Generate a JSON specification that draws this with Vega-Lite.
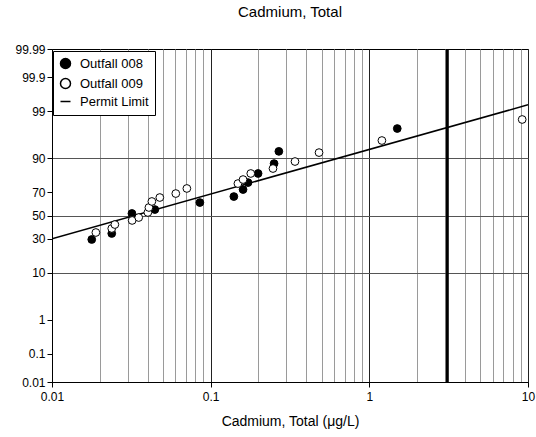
{
  "$schema": "https://vega.github.io/schema/vega-lite/v6.json",
  "autosize": {"type": "none"},
  "padding": {"left": 52, "top": 49, "right": 8, "bottom": 55},
  "width": 476,
  "height": 333,
  "background": "white",
  "title": {"text": "Cadmium, Total", "fontSize": 15, "fontWeight": "normal", "font": "Liberation Sans", "color": "black", "offset": 23},
  "config": {
    "font": "Liberation Sans",
    "view": {"stroke": "black", "strokeWidth": 1},
    "axis": {"labelFont": "Liberation Sans", "titleFont": "Liberation Sans", "labelColor": "black", "titleColor": "black", "domainColor": "black", "tickColor": "black", "labelFontSize": 12, "titleFontSize": 14, "titleFontWeight": "normal"},
    "legend": {"labelFontSize": 13, "labelFont": "Liberation Sans", "labelColor": "black"}
  },
  "datasets": {
    "pts": [
      {"conc": 0.0178, "pct": 29.6, "series": "Outfall 008"},
      {"conc": 0.0238, "pct": 34.4, "series": "Outfall 008"},
      {"conc": 0.0319, "pct": 51.8, "series": "Outfall 008"},
      {"conc": 0.0445, "pct": 55.3, "series": "Outfall 008"},
      {"conc": 0.0855, "pct": 61.4, "series": "Outfall 008"},
      {"conc": 0.140, "pct": 66.4, "series": "Outfall 008"},
      {"conc": 0.160, "pct": 71.9, "series": "Outfall 008"},
      {"conc": 0.172, "pct": 76.9, "series": "Outfall 008"},
      {"conc": 0.199, "pct": 82.6, "series": "Outfall 008"},
      {"conc": 0.251, "pct": 87.7, "series": "Outfall 008"},
      {"conc": 0.269, "pct": 92.4, "series": "Outfall 008"},
      {"conc": 1.50, "pct": 97.4, "series": "Outfall 008"},
      {"conc": 0.0189, "pct": 35.2, "series": "Outfall 009"},
      {"conc": 0.0238, "pct": 38.6, "series": "Outfall 009"},
      {"conc": 0.0249, "pct": 42.0, "series": "Outfall 009"},
      {"conc": 0.032, "pct": 45.6, "series": "Outfall 009"},
      {"conc": 0.0352, "pct": 48.2, "series": "Outfall 009"},
      {"conc": 0.0402, "pct": 52.7, "series": "Outfall 009"},
      {"conc": 0.0408, "pct": 57.1, "series": "Outfall 009"},
      {"conc": 0.0426, "pct": 62.3, "series": "Outfall 009"},
      {"conc": 0.0478, "pct": 65.6, "series": "Outfall 009"},
      {"conc": 0.0603, "pct": 68.8, "series": "Outfall 009"},
      {"conc": 0.0708, "pct": 72.7, "series": "Outfall 009"},
      {"conc": 0.1485, "pct": 76.2, "series": "Outfall 009"},
      {"conc": 0.160, "pct": 78.9, "series": "Outfall 009"},
      {"conc": 0.179, "pct": 82.6, "series": "Outfall 009"},
      {"conc": 0.247, "pct": 85.3, "series": "Outfall 009"},
      {"conc": 0.340, "pct": 88.6, "series": "Outfall 009"},
      {"conc": 0.482, "pct": 92.0, "series": "Outfall 009"},
      {"conc": 1.20, "pct": 95.3, "series": "Outfall 009"},
      {"conc": 9.19, "pct": 98.4, "series": "Outfall 009"}
    ],
    "fit": [
      {"conc": 0.01, "pct": 30.2},
      {"conc": 10, "pct": 99.33}
    ],
    "limit": [
      {"conc": 3.1}
    ]
  },
  "encoding": {
    "x": {
      "field": "conc", "type": "quantitative",
      "scale": {"type": "log", "domain": [0.01, 10], "nice": false},
      "axis": {
        "title": "Cadmium, Total (μg/L)",
        "values": [0.01,0.02,0.03,0.04,0.05,0.06,0.07,0.08,0.09,0.1,0.2,0.3,0.4,0.5,0.6,0.7,0.8,0.9,1,2,3,4,5,6,7,8,9,10],
        "labelExpr": "abs(log(datum.value)/LN10 - round(log(datum.value)/LN10)) < 0.001 ? format(datum.value, '~g') : ''",
        "labelOverlap": false,
        "labelFlush": false,
        "labelPadding": 4,
        "tickSize": {"condition": {"test": "abs(log(datum.value)/LN10 - round(log(datum.value)/LN10)) < 0.001", "value": 5}, "value": 0},
        "grid": true,
        "gridColor": {"condition": {"test": "abs(log(datum.value)/LN10 - round(log(datum.value)/LN10)) < 0.001", "value": "#222222"}, "value": "#9a9a9a"},
        "gridOpacity": 1,
        "titlePadding": 12
      }
    }
  },
  "layer": [
    {
      "data": {"name": "fit"},
      "transform": [{"calculate": "quantileNormal(datum.pct / 100)", "as": "z"}],
      "mark": {"type": "line", "color": "black", "strokeWidth": 1.5, "clip": true},
      "encoding": {
        "y": {
          "field": "z", "type": "quantitative",
          "scale": {"domain": [-3.719, 3.719], "nice": false, "zero": false},
          "axis": {
            "title": null,
            "values": [-3.719, -3.090, -2.326, -1.2816, -0.5244, 0, 0.5244, 1.2816, 2.326, 3.090, 3.719],
            "labelExpr": "datum.value < -3.5 ? '0.01' : datum.value < -3 ? '0.1' : datum.value < -2 ? '1' : datum.value < -1 ? '10' : datum.value < -0.3 ? '30' : datum.value < 0.3 ? '50' : datum.value < 1 ? '70' : datum.value < 2 ? '90' : datum.value < 3 ? '99' : datum.value < 3.5 ? '99.9' : '99.99'",
            "labelOverlap": false,
            "labelFlush": false,
            "labelPadding": 2,
            "tickSize": 5,
            "grid": true,
            "gridColor": {"condition": {"test": "abs(datum.value) < 0.1 || (abs(datum.value) > 1.2 && abs(datum.value) < 1.3)", "value": "#555555"}, "value": "transparent"},
            "gridOpacity": 1
          }
        }
      }
    },
    {
      "data": {"name": "limit"},
      "mark": {"type": "rule", "color": "black", "strokeWidth": 3}
    },
    {
      "data": {"name": "pts"},
      "transform": [{"calculate": "quantileNormal(datum.pct / 100)", "as": "z"}],
      "mark": {"type": "point", "filled": true, "stroke": "black", "strokeWidth": 1, "size": 60, "opacity": 1},
      "encoding": {
        "y": {
          "field": "z", "type": "quantitative",
          "scale": {"domain": [-3.719, 3.719], "nice": false, "zero": false},
          "axis": {
            "title": null,
            "values": [-3.719, -3.090, -2.326, -1.2816, -0.5244, 0, 0.5244, 1.2816, 2.326, 3.090, 3.719],
            "labelExpr": "datum.value < -3.5 ? '0.01' : datum.value < -3 ? '0.1' : datum.value < -2 ? '1' : datum.value < -1 ? '10' : datum.value < -0.3 ? '30' : datum.value < 0.3 ? '50' : datum.value < 1 ? '70' : datum.value < 2 ? '90' : datum.value < 3 ? '99' : datum.value < 3.5 ? '99.9' : '99.99'",
            "labelOverlap": false,
            "labelFlush": false,
            "labelPadding": 2,
            "tickSize": 5,
            "grid": true,
            "gridColor": {"condition": {"test": "abs(datum.value) < 0.1 || (abs(datum.value) > 1.2 && abs(datum.value) < 1.3)", "value": "#555555"}, "value": "transparent"},
            "gridOpacity": 1
          }
        },
        "fill": {
          "field": "series", "type": "nominal",
          "scale": {"domain": ["Outfall 008", "Outfall 009", "Permit Limit"], "range": ["black", "white", "black"]},
          "legend": {
            "title": null,
            "orient": "none",
            "legendX": 1,
            "legendY": 2,
            "fillColor": "white",
            "strokeColor": "black",
            "padding": 6,
            "rowPadding": 3,
            "symbolStrokeColor": "black",
            "labelOffset": 8,
            "encode": {
              "symbols": {
                "size": {"condition": {"test": "datum.value === 'Permit Limit'", "value": 900}, "value": 64},
                "strokeWidth": {"condition": {"test": "datum.value === 'Permit Limit'", "value": 2}, "value": 1},
                "stroke": {"value": "black"}
              },
              "labels": {
                "fontSize": {"condition": {"test": "datum.value === 'Permit Limit'", "value": 10}, "value": 13}
              }
            }
          }
        },
        "shape": {
          "field": "series", "type": "nominal",
          "scale": {"domain": ["Outfall 008", "Outfall 009", "Permit Limit"], "range": ["circle", "circle", "stroke"]}
        }
      }
    }
  ]
}
